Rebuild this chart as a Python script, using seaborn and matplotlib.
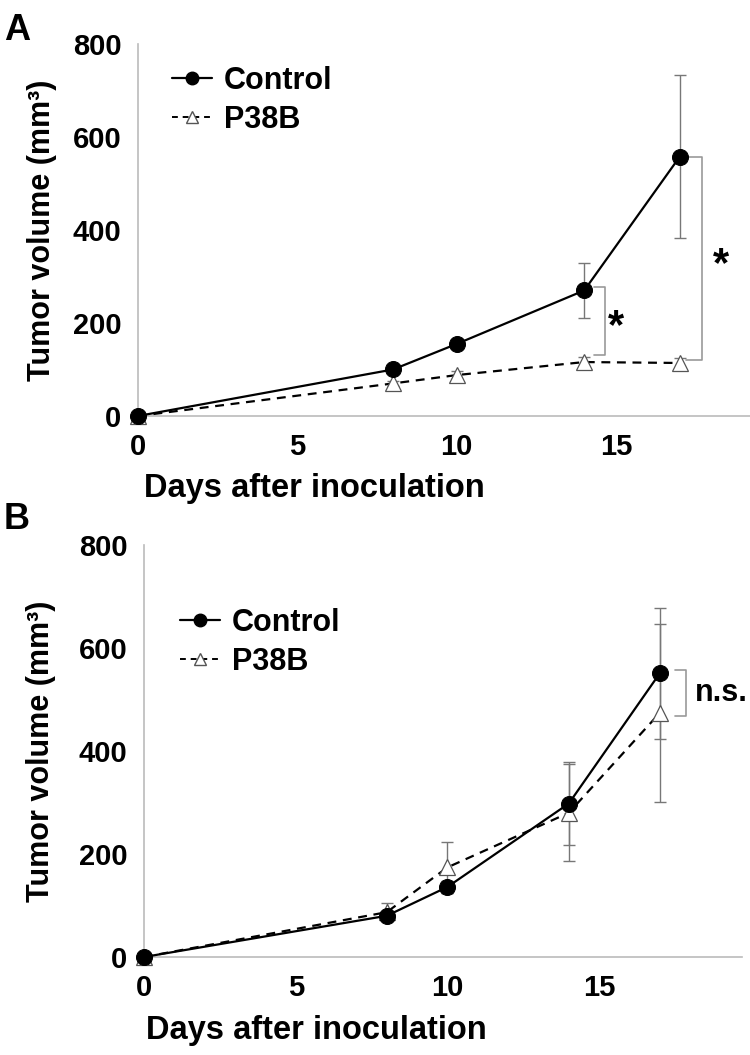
import matplotlib
matplotlib.use('Agg')
import pandas as pd
import matplotlib.pyplot as plt
import seaborn as sns
from matplotlib.lines import Line2D

# Data (mean +/- error, mm3)
days = [0, 8, 10, 14, 17]
a_control = [0, 100, 155, 270, 558]
a_control_err = [0, 8, 10, 60, 175]
a_p38b = [0, 70, 88, 116, 114]
a_p38b_err = [0, 6, 8, 10, 10]
b_control = [0, 80, 136, 298, 551]
b_control_err = [0, 8, 12, 80, 127]
b_p38b = [0, 87, 174, 280, 474]
b_p38b_err = [0, 18, 50, 94, 173]

sns.set_style('white')
plt.rcParams['font.family'] = ['Liberation Sans', 'DejaVu Sans']
plt.rcParams['font.weight'] = 'bold'
plt.rcParams['text.color'] = 'black'
plt.rcParams['axes.labelcolor'] = 'black'
plt.rcParams['xtick.labelcolor'] = 'black'
plt.rcParams['ytick.labelcolor'] = 'black'

fig = plt.figure(figsize=(7.5, 10.55), dpi=100)
axA = fig.add_axes([0.184, 0.6057, 0.816, 0.3526])
axB = fig.add_axes([0.192, 0.0929, 0.797, 0.3905])

grey = '#999999'


def panel(ax, ctrl, ctrl_err, p38, p38_err, xmax):
    df_c = pd.DataFrame({'day': days, 'vol': ctrl})
    df_p = pd.DataFrame({'day': days, 'vol': p38})
    ax.errorbar(days, ctrl, yerr=ctrl_err, fmt='none', ecolor='#777777',
                elinewidth=1, capsize=4, capthick=1, zorder=2, clip_on=False)
    ax.errorbar(days, p38, yerr=p38_err, fmt='none', ecolor='#777777',
                elinewidth=1, capsize=4, capthick=1, zorder=2, clip_on=False)
    sns.lineplot(data=df_p, x='day', y='vol', ax=ax, color='black', lw=1.6,
                 linestyle=(0, (4, 3)), marker='^', markersize=11,
                 markerfacecolor='white', markeredgecolor='#555555',
                 markeredgewidth=0.9, zorder=3, clip_on=False)
    sns.lineplot(data=df_c, x='day', y='vol', ax=ax, color='black', lw=1.6,
                 marker='o', markersize=11.5, markerfacecolor='black',
                 markeredgecolor='black', zorder=4, clip_on=False)
    ax.set_xlim(0, xmax)
    ax.set_ylim(0, 800)
    ax.set_xticks([0, 5, 10, 15])
    ax.set_yticks([0, 200, 400, 600, 800])
    for s in ['top', 'right']:
        ax.spines[s].set_visible(False)
    for s in ['left', 'bottom']:
        ax.spines[s].set_color('#bbbbbb')
        ax.spines[s].set_linewidth(1.2)
    ax.tick_params(axis='both', which='major', direction='out', length=6,
                   width=1, color='#bbbbbb', labelsize=21, pad=6,
                   labelcolor='black')
    for lab in ax.get_xticklabels() + ax.get_yticklabels():
        lab.set_fontweight('bold')
    ax.set_xlabel('Days after inoculation', fontsize=23.5, fontweight='bold')
    ax.set_ylabel('Tumor volume (mm³)', fontsize=22, fontweight='bold')


panel(axA, a_control, a_control_err, a_p38b, a_p38b_err, 19.2)
panel(axB, b_control, b_control_err, b_p38b, b_p38b_err, 19.7)

axA.xaxis.set_label_coords(0.289, -0.152)
axA.yaxis.set_label_coords(-0.132, 0.5)
axB.xaxis.set_label_coords(0.288, -0.14)
axB.yaxis.set_label_coords(-0.147, 0.5)

handles = [
    Line2D([], [], color='black', lw=1.6, marker='o', markersize=9,
           markerfacecolor='black'),
    Line2D([], [], color='black', lw=1.4, linestyle=(0, (3, 2.5)), marker='^',
           markersize=9, markerfacecolor='white', markeredgecolor='#555555'),
]
for ax, loc in [(axA, (0.011, 1.016)), (axB, (0.014, 0.915))]:
    ax.legend(handles, ['Control', 'P38B'], loc='upper left', bbox_to_anchor=loc,
              frameon=False, prop={'size': 22, 'weight': 'bold'},
              handlelength=1.3, handletextpad=0.4, labelspacing=0.3)

# significance brackets
bk = dict(color=grey, lw=1.2, clip_on=False)
axA.plot([14.3, 14.65, 14.65, 14.3], [278, 278, 131, 131], **bk)
axA.text(15.0, 192, '*', fontsize=30, fontweight='bold', ha='center', va='center')
axA.plot([17.2, 17.7, 17.7, 17.2], [556, 556, 120, 120], **bk)
axA.text(18.3, 325, '*', fontsize=30, fontweight='bold', ha='center', va='center')
axB.plot([17.5, 17.85, 17.85, 17.5], [557, 557, 468, 468], **bk)
axB.text(18.15, 513, 'n.s.', fontsize=22, fontweight='bold', ha='left', va='center')

fig.text(0.005, 0.988, 'A', fontsize=26, fontweight='bold', va='top')
fig.text(0.005, 0.524, 'B', fontsize=26, fontweight='bold', va='top')

fig.savefig('out.png', dpi=100)
